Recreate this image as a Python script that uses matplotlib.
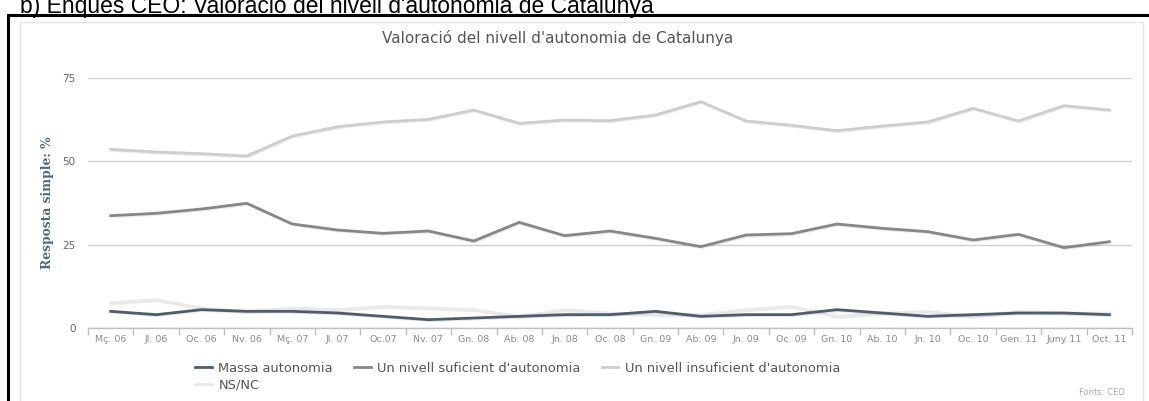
import matplotlib
matplotlib.use("Agg")
import matplotlib.pyplot as plt
from matplotlib.patches import Rectangle
import matplotlib.patheffects as pe

categories = ["Mç. 06", "Jl. 06", "Oc. 06", "Nv. 06", "Mç. 07", "Jl. 07", "Oc.07", "Nv. 07",
              "Gn. 08", "Ab. 08", "Jn. 08", "Oc. 08", "Gn. 09", "Ab. 09", "Jn. 09", "Oc. 09",
              "Gn. 10", "Ab. 10", "Jn. 10", "Oc. 10", "Gen. 11", "Juny 11", "Oct. 11"]

massa = [5.0, 4.0, 5.5, 5.0, 5.0, 4.5, 3.5, 2.5, 3.0, 3.5, 4.0, 4.0, 5.0, 3.5, 4.0, 4.0,
         5.5, 4.5, 3.5, 4.0, 4.5, 4.5, 4.0]
suficient = [33.7, 34.4, 35.7, 37.4, 31.2, 29.4, 28.4, 29.1, 26.1, 31.7, 27.7, 29.1, 26.9, 24.4,
             27.9, 28.3, 31.2, 29.9, 28.9, 26.4, 28.1, 24.1, 25.9]
insuficient = [53.6, 52.8, 52.3, 51.6, 57.6, 60.4, 61.8, 62.6, 65.4, 61.4, 62.4, 62.2, 63.9, 67.9,
               62.1, 60.8, 59.2, 60.6, 61.8, 65.9, 62.1, 66.7, 65.4]
nsnc = [7.5, 8.5, 6.0, 5.0, 6.0, 5.5, 6.5, 6.0, 5.5, 3.5, 5.5, 4.5, 4.0, 4.0, 5.5, 6.5,
        3.5, 4.5, 5.0, 3.5, 5.0, 4.5, 4.5]

series_names = ["Massa autonomia", "Un nivell suficient d'autonomia",
                "Un nivell insuficient d'autonomia", "NS/NC"]
yticks = [0, 25, 50, 75]

W, H = 1149, 401
fig = plt.figure(figsize=(W / 100, H / 100), dpi=100)
fig.patch.set_facecolor("white")

# outer black frame
fig.patches.append(Rectangle((8 / W, -0.05), 1.2, 1 - 15 / H + 0.05, transform=fig.transFigure,
                             fill=False, edgecolor="black", linewidth=2.2))
# inner faint panel border
fig.patches.append(Rectangle((20 / W, -0.05), (1143 - 20) / W, 1 - 22 / H + 0.05,
                             transform=fig.transFigure, fill=False, edgecolor="#e4e4e4",
                             linewidth=1.0))

# header text (partly cut off at the top, as in the reference)
fig.text(20 / W, 1 - 13 / H, "b) Enques CEO: Valoració del nivell d'autonomia de Catalunya",
         fontsize=16.5, family="Liberation Sans", color="black", va="baseline", ha="left")

ax = fig.add_axes([88 / W, 1 - 328 / H, (1132 - 88) / W, (328 - 78) / H])
ax.set_facecolor("none")
x = list(range(len(categories)))

colors = ["#4f5d6b", "#878787", "#cdcdcd", "#e9e9e9"]
data = [massa, suficient, insuficient, nsnc]
shadow = [pe.SimpleLineShadow(offset=(0.8, -0.8), shadow_color="#000000", alpha=0.08),
          pe.Normal()]
order = [3, 2, 1, 0]
for i in order:
    ax.plot(x, data[i], color=colors[i], linewidth=2.0, solid_joinstyle="round",
            path_effects=shadow, clip_on=False, zorder=3 + (3 - i))

ax.set_xlim(-0.5, len(categories) - 0.5)
ax.set_ylim(0, 75)
ax.set_yticks(yticks)
ax.set_yticklabels([str(v) for v in yticks], fontsize=7.5, color="#666666")
ax.yaxis.grid(True, color="#d0d0d0", linewidth=1.0)
ax.tick_params(axis="y", length=0, pad=9)
for s in ["top", "right", "left"]:
    ax.spines[s].set_visible(False)
ax.spines["bottom"].set_color("#c0c0c0")
ax.spines["bottom"].set_linewidth(1.0)

ax.set_xticks(x)
ax.set_xticklabels(categories, fontsize=6.8, color="#8a8a8a")
ax.tick_params(axis="x", length=0, pad=5)
ax.set_xticks([v - 0.5 for v in range(len(categories) + 1)], minor=True)
ax.tick_params(axis="x", which="minor", length=5, color="#c0c0c0", width=1)
ax.set_axisbelow(True)

ax.set_ylabel("Resposta simple: %", fontsize=8.8, color="#4d6a80", fontweight="bold",
              family="DejaVu Serif", labelpad=6)

fig.text(558 / W, 1 - 38 / H, "Valoració del nivell d'autonomia de Catalunya",
         fontsize=11, color="#555555", ha="center", va="center")

# legend (row-major: Massa, suficient, insuficient / NS/NC)
leg_order = [0, 3, 1, 2]
leg_handles = [plt.Line2D([0], [0], color=colors[i], linewidth=2) for i in leg_order]
leg_labels = [series_names[i] for i in leg_order]
leg = fig.legend(leg_handles, leg_labels, loc="upper left",
                 bbox_to_anchor=(195 / W, 1 - 362 / H), ncol=3, frameon=False,
                 handlelength=1.3, handletextpad=0.5, columnspacing=1.6,
                 labelspacing=0.25, borderaxespad=0, borderpad=0,
                 prop={"family": "DejaVu Sans", "size": 9.4})
for t in leg.get_texts():
    t.set_color("#555555")

fig.text(1125 / W, 1 - 397 / H, "Fonts: CEO", fontsize=6, color="#aaaaaa", ha="right",
         va="bottom")

fig.savefig("out.png", dpi=100, facecolor="white")
